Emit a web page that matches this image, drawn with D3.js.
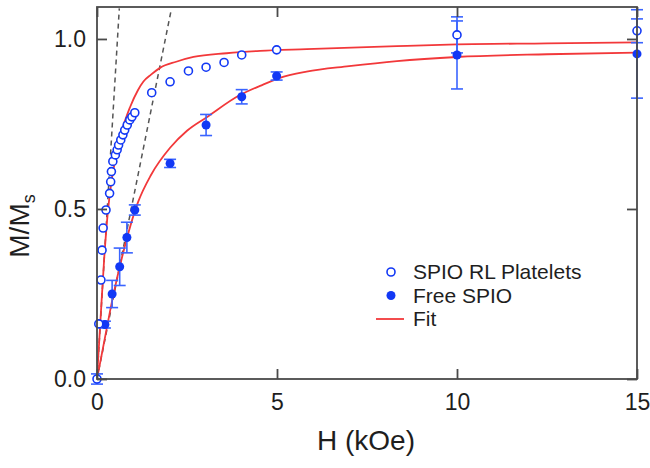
<!DOCTYPE html>
<html>
<head>
<meta charset="utf-8">
<script src="https://cdn.jsdelivr.net/npm/d3@7"></script>
<style>
  html, body { margin: 0; padding: 0; background: #fff; }
  svg { display: block; font-family: "Liberation Sans", Arial, sans-serif; }
</style>
</head>
<body>
<div id="chart"></div>
<script>
// SPIO RL platelets (open circles)
const plateletH = [0, 0.05, 0.11, 0.14, 0.17, 0.25, 0.35, 0.38, 0.40, 0.44, 0.51, 0.56, 0.60, 0.66, 0.72, 0.77, 0.84, 0.91, 0.97, 1.05, 1.52, 2.03, 2.54, 3.03, 3.53, 4.02, 4.99, 10, 15];
const plateletM = [0, 0.162, 0.291, 0.379, 0.444, 0.497, 0.546, 0.58, 0.61, 0.64, 0.659, 0.674, 0.688, 0.703, 0.718, 0.732, 0.747, 0.762, 0.771, 0.783, 0.842, 0.874, 0.906, 0.917, 0.931, 0.953, 0.968, 1.012, 1.024];
const plateletErr = [0.015, 0, 0, 0, 0, 0, 0, 0, 0, 0, 0, 0, 0, 0, 0, 0, 0, 0, 0, 0, 0, 0, 0, 0, 0, 0, 0, 0.053, 0.035];

// free SPIO (filled circles)
const freeH = [0.22, 0.42, 0.63, 0.83, 1.05, 2.03, 3.03, 4.02, 4.99, 10, 15];
const freeM = [0.16, 0.25, 0.33, 0.416, 0.497, 0.634, 0.747, 0.83, 0.891, 0.953, 0.956];
const freeErr = [0.01, 0.04, 0.055, 0.045, 0.015, 0.012, 0.031, 0.021, 0.012, 0.1, 0.13];

// fit curves
const fitPlateletH = [0, 0.1, 0.2, 0.3, 0.4, 0.54, 0.68, 0.92, 1.14, 1.29, 1.5, 1.75, 2.2, 2.68, 3.6, 4.53, 5.82, 8.33, 10, 12.5, 15];
const fitPlateletM = [0, 0.18, 0.355, 0.49, 0.58, 0.66, 0.725, 0.80, 0.85, 0.875, 0.895, 0.915, 0.933, 0.947, 0.958, 0.965, 0.970, 0.979, 0.984, 0.987, 0.99];
const fitFreeH = [0, 0.2, 0.44, 0.7, 1.14, 1.5, 2.03, 2.5, 3.05, 3.97, 4.53, 5.06, 5.82, 7, 8.33, 10, 12.5, 15];
const fitFreeM = [0, 0.11, 0.24, 0.36, 0.52, 0.6, 0.68, 0.73, 0.77, 0.835, 0.862, 0.885, 0.904, 0.92, 0.935, 0.947, 0.955, 0.96];

// initial-slope dashed guides
const slopeLines = [
  [[0, 0], [0.62, 1.09]],
  [[0, 0], [2.07, 1.09]]
];

const xTicks = [0, 5, 10, 15];
const yTicks = [0, 0.5, 1.0];
const legendItems = ['SPIO RL Platelets', 'Free SPIO', 'Fit'];

const width = 650;
const height = 468;
const margin = { top: 7, right: 13, bottom: 89, left: 97 };
const innerW = width - margin.left - margin.right;
const innerH = height - margin.top - margin.bottom;

const blue = '#1238f5';
const barBlue = '#3a64ff';
const red = '#f2383a';
const axisColor = '#4a4a4a';
const textColor = '#1e1e1e';

const svg = d3.select('#chart').append('svg')
  .attr('width', width)
  .attr('height', height);

const g = svg.append('g').attr('transform', `translate(${margin.left},${margin.top})`);

const xScale = d3.scaleLinear().domain([0, 15]).range([0, innerW]);
const yScale = d3.scaleLinear().domain([0, 1.094]).range([innerH, 0]);

g.append('clipPath').attr('id', 'clip')
  .append('rect').attr('width', innerW).attr('height', innerH);

const plot = g.append('g').attr('clip-path', 'url(#clip)');

// dashed guides
plot.selectAll('line.guide')
  .data(slopeLines)
  .join('line')
  .attr('class', 'guide')
  .attr('x1', d => xScale(d[0][0]))
  .attr('y1', d => yScale(d[0][1]))
  .attr('x2', d => xScale(d[1][0]))
  .attr('y2', d => yScale(d[1][1]))
  .attr('stroke', '#555')
  .attr('stroke-width', 1.5)
  .attr('stroke-dasharray', '5 4');

// fits
const line = d3.line()
  .x(d => xScale(d[0]))
  .y(d => yScale(d[1]))
  .curve(d3.curveMonotoneX);

const fits = [
  d3.zip(fitPlateletH, fitPlateletM),
  d3.zip(fitFreeH, fitFreeM)
];

plot.selectAll('path.fit')
  .data(fits)
  .join('path')
  .attr('class', 'fit')
  .attr('fill', 'none')
  .attr('stroke', red)
  .attr('stroke-width', 1.8)
  .attr('d', line);

const platelets = plateletH.map((h, i) => ({ h, m: plateletM[i], e: plateletErr[i] }));
const free = freeH.map((h, i) => ({ h, m: freeM[i], e: freeErr[i] }));

function errorBars(sel, data, cls) {
  const bars = sel.selectAll(`g.${cls}`)
    .data(data.filter(d => d.e > 0))
    .join('g')
    .attr('class', cls)
    .attr('stroke', barBlue)
    .attr('stroke-width', 1.6);
  bars.append('line')
    .attr('x1', d => xScale(d.h)).attr('x2', d => xScale(d.h))
    .attr('y1', d => yScale(d.m - d.e)).attr('y2', d => yScale(d.m + d.e));
  [-1, 1].forEach(s => {
    bars.append('line')
      .attr('x1', d => xScale(d.h) - 6).attr('x2', d => xScale(d.h) + 6)
      .attr('y1', d => yScale(d.m + s * d.e)).attr('y2', d => yScale(d.m + s * d.e));
  });
}

errorBars(g, free, 'err-free');
errorBars(g, platelets, 'err-plt');

g.selectAll('circle.free')
  .data(free)
  .join('circle')
  .attr('class', 'free')
  .attr('cx', d => xScale(d.h))
  .attr('cy', d => yScale(d.m))
  .attr('r', 4.5)
  .attr('fill', blue);

g.selectAll('circle.plt')
  .data(platelets)
  .join('circle')
  .attr('class', 'plt')
  .attr('cx', d => xScale(d.h))
  .attr('cy', d => yScale(d.m))
  .attr('r', 4)
  .attr('fill', '#fff')
  .attr('stroke', blue)
  .attr('stroke-width', 1.6);

// frame
g.append('rect')
  .attr('width', innerW)
  .attr('height', innerH)
  .attr('fill', 'none')
  .attr('stroke', axisColor)
  .attr('stroke-width', 1.8);

// axes with inward ticks
const xAxis = g.append('g')
  .attr('transform', `translate(0,${innerH})`)
  .call(d3.axisBottom(xScale).tickValues(xTicks).tickSize(-10).tickPadding(15).tickFormat(d3.format('d')));
const xTop = g.append('g')
  .call(d3.axisTop(xScale).tickValues(xTicks).tickSize(-10).tickFormat(''));
const yAxis = g.append('g')
  .call(d3.axisLeft(yScale).tickValues(yTicks).tickSize(-10).tickPadding(11).tickFormat(d3.format('.1f')));
const yRight = g.append('g')
  .attr('transform', `translate(${innerW},0)`)
  .call(d3.axisRight(yScale).tickValues(yTicks).tickSize(-10).tickFormat(''));

[xAxis, xTop, yAxis, yRight].forEach(a => {
  a.select('.domain').remove();
  a.selectAll('.tick line').attr('stroke', axisColor).attr('stroke-width', 1.8);
  a.selectAll('.tick text').attr('fill', textColor).attr('font-size', 23).attr('font-family', '"Liberation Sans", Arial, sans-serif');
});

// axis titles
g.append('text')
  .attr('x', innerW / 2 - 1)
  .attr('y', innerH + 71)
  .attr('text-anchor', 'middle')
  .attr('font-size', 28)
  .attr('fill', textColor)
  .text('H (kOe)');

const yTitle = g.append('text')
  .attr('transform', `translate(${-68},${yScale(0.45)}) rotate(-90)`)
  .attr('text-anchor', 'middle')
  .attr('font-size', 28)
  .attr('fill', textColor);
yTitle.append('tspan').text('M/M');
yTitle.append('tspan').attr('font-size', 18).attr('dy', 6).text('s');

// legend
const legend = g.append('g').attr('transform', `translate(${294},${265})`);
const rows = legend.selectAll('g.row')
  .data(legendItems)
  .join('g')
  .attr('class', 'row')
  .attr('transform', (d, i) => `translate(0,${i * 23.5})`);

rows.append('text')
  .attr('x', 22)
  .attr('y', 7)
  .attr('font-size', 21)
  .attr('fill', textColor)
  .text(d => d);

rows.filter((d, i) => i === 0).append('circle')
  .attr('r', 4).attr('fill', '#fff').attr('stroke', blue).attr('stroke-width', 1.6);
rows.filter((d, i) => i === 1).append('circle')
  .attr('r', 4.5).attr('fill', blue);
rows.filter((d, i) => i === 2).append('line')
  .attr('x1', -15).attr('x2', 13)
  .attr('stroke', red).attr('stroke-width', 1.8);
</script>
</body>
</html>
